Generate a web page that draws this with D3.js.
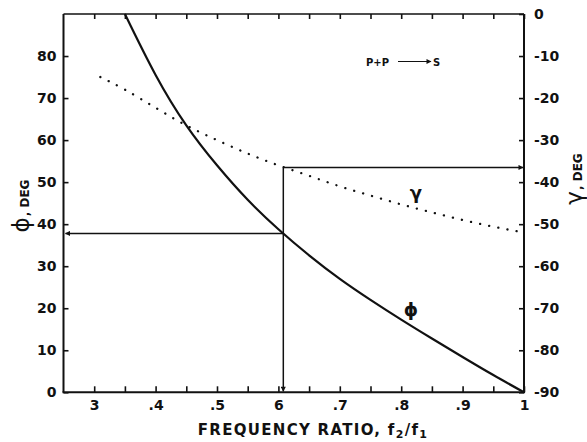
<!DOCTYPE html>
<html>
<head>
<meta charset="utf-8">
<script src="https://cdn.jsdelivr.net/npm/d3@7"></script>
<style>
  body { margin: 0; background: #fff; }
  text { font-family: "DejaVu Sans", "Liberation Sans", Arial, sans-serif; fill: #111; }
</style>
</head>
<body>
<div id="chart"></div>
<script>
// Data
var ratio = [0.35, 0.40, 0.45, 0.50, 0.55, 0.60, 0.65, 0.70, 0.75, 0.80, 0.85, 0.90, 0.95, 1.00];
var phiDeg = [90, 75.5, 63.5, 54, 45.8, 38.8, 32.6, 27, 22, 17.3, 12.8, 8.4, 4.1, 0];

var gammaRatio = [0.31, 0.35, 0.40, 0.45, 0.50, 0.55, 0.60, 0.65, 0.70, 0.75, 0.80, 0.85, 0.90, 0.95, 1.00];
var gammaDeg = [-15, -18, -22.3, -26.5, -30, -33.2, -36, -38.5, -41, -43.2, -45.3, -47.2, -49, -50.6, -52];

var xTicks = [0.3, 0.4, 0.5, 0.6, 0.7, 0.8, 0.9, 1.0];
var xTickLabels = ["3", ".4", ".5", "6", ".7", ".8", ".9", "1"];
var xMinorTicks = [0.35, 0.45, 0.55, 0.65, 0.75, 0.85, 0.95];
var phiTicks = [0, 10, 20, 30, 40, 50, 60, 70, 80];
var gammaTicks = [-90, -80, -70, -60, -50, -40, -30, -20, -10, 0];

// operating point marked on the chart
var pickRatio = 0.608;
var pickPhi = 37.8;
var pickGamma = -36.5;

function draw() {
  // Setup
  var width = 587, height = 442;
  var pLeft = 63.5, pRight = 524, pTop = 14, pBottom = 392.3;
  var tickFont = '"DejaVu Sans", "Liberation Sans", sans-serif';

  var svg = d3.select('#chart')
    .append('svg')
    .attr('width', width)
    .attr('height', height);

  var x = d3.scaleLinear().domain([0.25, 1]).range([pLeft, pRight]);
  var yPhi = d3.scaleLinear().domain([0, 90]).range([pBottom, pTop]);
  var yGam = d3.scaleLinear().domain([-90, 0]).range([pBottom, pTop]);

  // arrow heads
  svg.append('defs').append('marker')
    .attr('id', 'arrow')
    .attr('viewBox', '0 0 10 10')
    .attr('refX', 9).attr('refY', 5)
    .attr('markerWidth', 7).attr('markerHeight', 5)
    .attr('markerUnits', 'userSpaceOnUse')
    .attr('orient', 'auto')
    .append('path')
    .attr('d', 'M0,0 L10,5 L0,10 Z')
    .attr('fill', '#111');

  // frame
  var frame = svg.append('g').attr('stroke', '#111').attr('fill', 'none');
  frame.append('line').attr('x1', pLeft).attr('x2', pRight).attr('y1', pTop).attr('y2', pTop).attr('stroke-width', 1.6);
  frame.append('line').attr('x1', pLeft - 1).attr('x2', pRight + 1).attr('y1', pBottom).attr('y2', pBottom).attr('stroke-width', 2);
  frame.append('line').attr('x1', pLeft).attr('x2', pLeft).attr('y1', pTop).attr('y2', pBottom).attr('stroke-width', 2);
  frame.append('line').attr('x1', pRight).attr('x2', pRight).attr('y1', pTop).attr('y2', pBottom).attr('stroke-width', 2);

  // bottom axis (ticks inward)
  var xAxis = d3.axisBottom(x)
    .tickValues(xTicks.concat(xMinorTicks))
    .tickSizeInner(-6).tickSizeOuter(0)
    .tickFormat(function(d){
      var i = xTicks.indexOf(d);
      return i < 0 ? '' : xTickLabels[i];
    });
  var gx = svg.append('g').attr('transform', 'translate(0,' + pBottom + ')').call(xAxis);
  gx.select('.domain').remove();
  gx.selectAll('line').attr('stroke', '#111').attr('stroke-width', 1.6);
  gx.selectAll('text').attr('y', 8).attr('dy', '0.71em')
    .style('font-size', '14px').style('font-weight', 'bold').style('font-family', tickFont).attr('fill', '#111');

  // top ticks
  var gxt = svg.append('g').attr('transform', 'translate(0,' + pTop + ')')
    .call(d3.axisTop(x).tickValues(xTicks.concat(xMinorTicks)).tickSizeInner(-5).tickSizeOuter(0).tickFormat(''));
  gxt.select('.domain').remove();
  gxt.selectAll('line').attr('stroke', '#111').attr('stroke-width', 1.6);

  // left axis
  var gl = svg.append('g').attr('transform', 'translate(' + pLeft + ',0)')
    .call(d3.axisLeft(yPhi).tickValues(phiTicks).tickSizeInner(-5).tickSizeOuter(0));
  gl.select('.domain').remove();
  gl.selectAll('line').attr('stroke', '#111').attr('stroke-width', 1.6);
  gl.selectAll('text').attr('x', -7)
    .style('font-size', '14px').style('font-weight', 'bold').style('font-family', tickFont).attr('fill', '#111');

  // right axis (plain hyphen for the minus sign)
  var gr = svg.append('g').attr('transform', 'translate(' + pRight + ',0)')
    .call(d3.axisRight(yGam).tickValues(gammaTicks).tickSizeInner(-5).tickSizeOuter(0)
      .tickFormat(function(d){ return String(d); }));
  gr.select('.domain').remove();
  gr.selectAll('line').attr('stroke', '#111').attr('stroke-width', 1.6);
  gr.selectAll('text').attr('x', 10)
    .style('font-size', '14px').style('font-weight', 'bold').style('font-family', tickFont).attr('fill', '#111');

  // phi curve
  var phiLine = d3.line()
    .x(function(d, i){ return x(ratio[i]); })
    .y(function(d){ return yPhi(d); })
    .curve(d3.curveNatural);
  svg.append('path')
    .attr('d', phiLine(phiDeg))
    .attr('fill', 'none')
    .attr('stroke', '#111')
    .attr('stroke-width', 2.2);

  // gamma curve (dotted)
  var gamLine = d3.line()
    .x(function(d, i){ return x(gammaRatio[i]); })
    .y(function(d){ return yGam(d); })
    .curve(d3.curveNatural);
  svg.append('path')
    .attr('d', gamLine(gammaDeg))
    .attr('fill', 'none')
    .attr('stroke', '#111')
    .attr('stroke-width', 2.3)
    .attr('stroke-linecap', 'round')
    .attr('stroke-dasharray', '0.1,9.2');

  // read-off lines
  var guides = svg.append('g').attr('stroke', '#111').attr('stroke-width', 1.5).attr('fill', 'none');
  guides.append('line')
    .attr('x1', x(pickRatio)).attr('y1', yGam(pickGamma))
    .attr('x2', x(pickRatio)).attr('y2', pBottom - 1)
    .attr('marker-end', 'url(#arrow)');
  guides.append('line')
    .attr('x1', x(pickRatio)).attr('y1', yGam(pickGamma))
    .attr('x2', pRight - 1).attr('y2', yGam(pickGamma))
    .attr('marker-end', 'url(#arrow)');
  guides.append('line')
    .attr('x1', x(pickRatio)).attr('y1', yPhi(pickPhi))
    .attr('x2', pLeft + 2).attr('y2', yPhi(pickPhi))
    .attr('marker-end', 'url(#arrow)');

  // curve labels
  svg.append('text').attr('x', 416).attr('y', 199).attr('text-anchor', 'middle')
    .style('font-size', '18px').style('font-weight', 'bold').text('γ');
  svg.append('text').attr('x', 411).attr('y', 316).attr('text-anchor', 'middle')
    .style('font-size', '18px').style('font-weight', 'bold').text('ϕ');

  // reaction label
  var rx = svg.append('g');
  rx.append('text').attr('x', 366).attr('y', 65.5)
    .style('font-size', '10px').style('font-weight', 'bold').text('P+P');
  rx.append('line').attr('x1', 398).attr('x2', 431).attr('y1', 61.5).attr('y2', 61.5)
    .attr('stroke', '#111').attr('stroke-width', 1).attr('marker-end', 'url(#arrow)');
  rx.append('text').attr('x', 433).attr('y', 65.5)
    .style('font-size', '10px').style('font-weight', 'bold').text('S');

  // axis titles
  svg.append('text')
    .attr('x', 313).attr('y', 435).attr('text-anchor', 'middle')
    .style('font-size', '15px').style('font-weight', 'bold').style('letter-spacing', '1.3px')
    .html('FREQUENCY RATIO, f<tspan dy="2.5" font-size="11px">2</tspan><tspan dy="-2.5">/f</tspan><tspan dy="2.5" font-size="11px">1</tspan>');

  var lt = svg.append('text')
    .attr('transform', 'translate(29,206) rotate(-90)')
    .attr('text-anchor', 'middle');
  lt.append('tspan').style('font-size', '23px').text('ϕ');
  lt.append('tspan').style('font-size', '12px').style('font-weight', 'bold').attr('dx', 1).text(', DEG');

  var rt = svg.append('text')
    .attr('transform', 'translate(582,179) rotate(-90)')
    .attr('text-anchor', 'middle');
  rt.append('tspan').style('font-size', '23px').text('γ');
  rt.append('tspan').style('font-size', '12px').style('font-weight', 'bold').attr('dx', 1).text(', DEG');
}

draw();
</script>
</body>
</html>
